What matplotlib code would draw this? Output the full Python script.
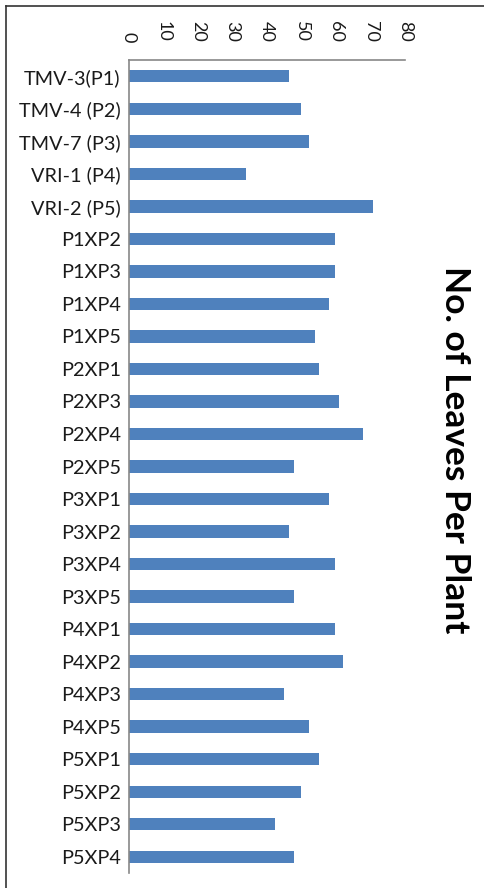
import matplotlib.pyplot as plt
from matplotlib.lines import Line2D
import numpy as np

categories = ['TMV-3(P1)', 'TMV-4 (P2)', 'TMV-7 (P3)', 'VRI-1 (P4)', 'VRI-2 (P5)',
              'P1XP2', 'P1XP3', 'P1XP4', 'P1XP5',
              'P2XP1', 'P2XP3', 'P2XP4', 'P2XP5',
              'P3XP1', 'P3XP2', 'P3XP4', 'P3XP5',
              'P4XP1', 'P4XP2', 'P4XP3', 'P4XP5',
              'P5XP1', 'P5XP2', 'P5XP3', 'P5XP4']
leaves = [46.4, 49.9, 52.2, 33.9, 70.8,
          59.7, 59.7, 58.0, 53.8,
          55.1, 60.9, 67.9, 47.9,
          58.0, 46.4, 59.7, 47.9,
          59.7, 62.1, 45.0, 52.2,
          55.1, 49.9, 42.2, 47.9]
x_ticks = [0, 10, 20, 30, 40, 50, 60, 70, 80]
title = 'No. of Leaves Per Plant'

plt.rcParams['font.family'] = ['Lato', 'DejaVu Sans']

fig = plt.figure(figsize=(4.84, 8.88), dpi=100)
ax = fig.add_axes([0.2665, 0.0169, 0.5703, 0.9155])

y = np.arange(len(categories))
ax.barh(y, leaves, height=0.38, color='#4F81BD')

ax.set_ylim(len(categories) - 0.5, -0.5)
ax.set_xlim(0, 80)
ax.set_yticks(y)
ax.set_yticklabels(categories, fontsize=14.3, color='#1a1a1a')
ax.set_xticks(x_ticks)
ax.set_xticklabels([str(t) for t in x_ticks], rotation=-90, fontsize=13, color='#1a1a1a')
ax.xaxis.tick_top()
ax.tick_params(axis='x', length=0, pad=13)
ax.tick_params(axis='y', length=0, pad=6)

for side in ['right', 'bottom']:
    ax.spines[side].set_visible(False)
for side in ['left', 'top']:
    ax.spines[side].set_color('#888888')
    ax.spines[side].set_linewidth(1.2)

fig.text(0.94, 0.4932, title, rotation=-90, fontsize=25.5, fontweight='bold',
         ha='center', va='center', color='black')

# outer border (left and top edges)
fig.add_artist(Line2D([6 / 484, 6 / 484], [0, 1 - 6 / 888], transform=fig.transFigure,
                      color='#333333', linewidth=1.2))
fig.add_artist(Line2D([6 / 484, 1], [1 - 6 / 888, 1 - 6 / 888], transform=fig.transFigure,
                      color='#333333', linewidth=1.2))

fig.savefig('out.png', dpi=100)
